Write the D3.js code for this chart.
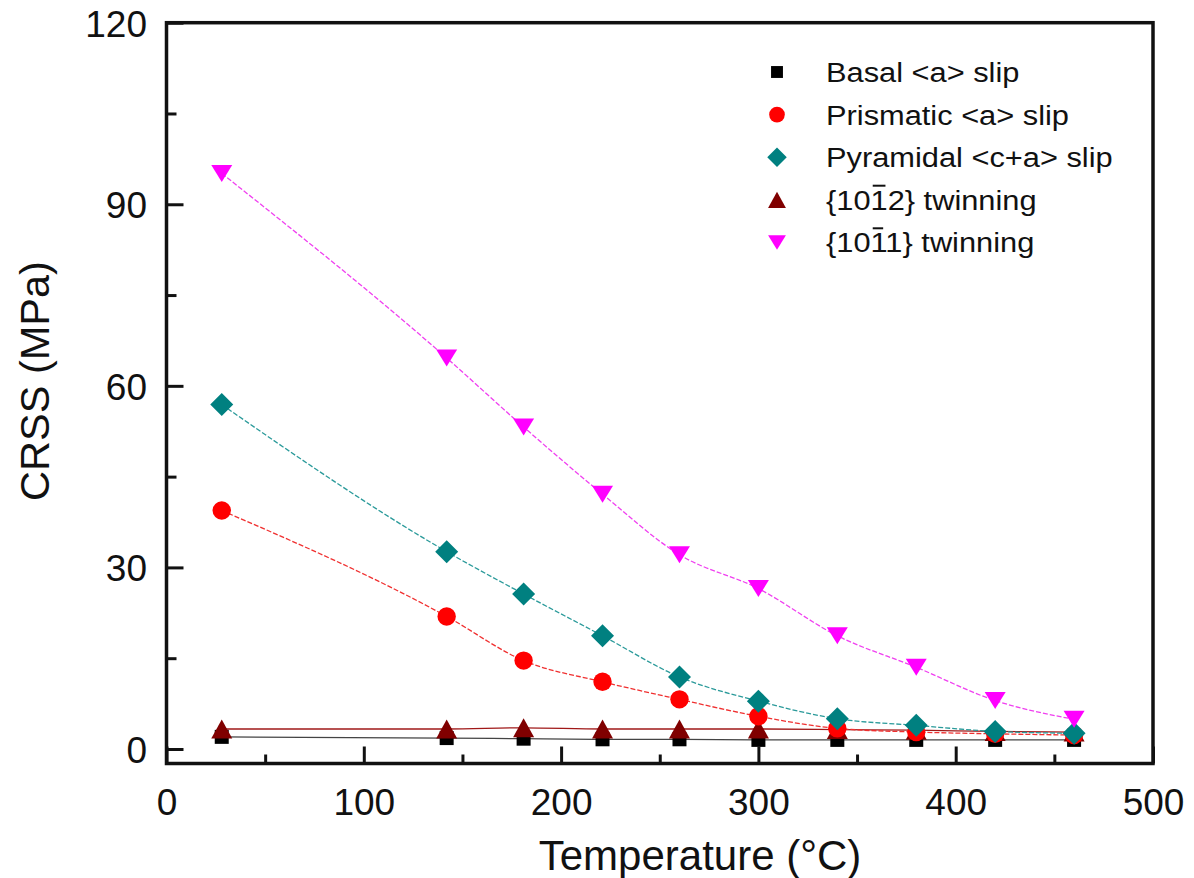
<!DOCTYPE html>
<html>
<head>
<meta charset="utf-8">
<script src="https://cdn.jsdelivr.net/npm/d3@7"></script>
<style>
  html, body { margin: 0; padding: 0; background: #fff; }
  svg text { font-family: "Liberation Sans", Arial, Helvetica, sans-serif; fill: #111; }
</style>
</head>
<body>
<svg id="chart" width="1194" height="878"></svg>
<script>
// Temperature (°C) at which each CRSS value was fitted
const temps = [28, 142, 181, 221, 260, 300, 340, 380, 420, 460];

// CRSS (MPa) per deformation mode
const basal     = [2.0, 1.8, 1.7, 1.6, 1.6, 1.5, 1.5, 1.5, 1.5, 1.5];
const prismatic = [39.4, 21.9, 14.6, 11.1, 8.2, 5.4, 3.4, 2.8, 2.5, 2.3];
const pyramidal = [56.9, 32.6, 25.6, 18.7, 11.9, 7.9, 5.0, 3.9, 2.9, 2.6];
const twin1012  = [3.3, 3.3, 3.5, 3.3, 3.3, 3.3, 3.2, 3.1, 2.9, 2.8];
const twin1011  = [95.1, 64.6, 53.2, 42.1, 32.1, 26.5, 18.7, 13.5, 8.0, 4.9];

// Axis ticks
const xMajor = [0, 100, 200, 300, 400, 500];
const xMinor = [50, 150, 250, 350, 450];
const yMajor = [0, 30, 60, 90, 120];
const yMinor = [15, 45, 75, 105];

const seriesNames = ["Basal <a> slip", "Prismatic <a> slip", "Pyramidal <c+a> slip", "{1012} twinning", "{1011} twinning"];

const series = [
  { name: seriesNames[0], values: basal,     color: "#000000", line: "#444444", dash: null,  shape: "square" },
  { name: seriesNames[3], values: twin1012,  color: "#800000", line: "#a01818", dash: null,  shape: "up" },
  { name: seriesNames[1], values: prismatic, color: "#ff0000", line: "#f03030", dash: "5,2", shape: "circle" },
  { name: seriesNames[2], values: pyramidal, color: "#008080", line: "#2a9a9a", dash: "5,2", shape: "diamond" },
  { name: seriesNames[4], values: twin1011,  color: "#ff00ff", line: "#f040f0", dash: "5,2", shape: "down" }
];
const legendOrder = [0, 2, 3, 1, 4];

const svg = d3.select("#chart");
const x = d3.scaleLinear().domain([0, 500]).range([166.5, 1153]);
const y = d3.scaleLinear().domain([-2.4, 120]).range([763.5, 22.7]);

function markerPath(shape) {
  switch (shape) {
    case "square":  return "M-7,-7H7V7H-7Z";
    case "circle":  return d3.symbol(d3.symbolCircle, Math.PI * 9.2 * 9.2)();
    case "diamond": return "M0,-11.5L11.5,0L0,11.5L-11.5,0Z";
    case "up":      return "M0,-9.5L10.5,9.5L-10.5,9.5Z";
    case "down":    return "M-10.5,-8.5L10.5,-8.5L0,8.5Z";
  }
}

// Connecting curves and markers
const line = d3.line().x((d, i) => x(temps[i])).y(d => y(d)).curve(d3.curveMonotoneX);
const plot = svg.append("g");
series.forEach(s => {
  plot.append("path")
    .attr("d", line(s.values))
    .attr("fill", "none")
    .attr("stroke", s.line)
    .attr("stroke-width", 1.3)
    .attr("stroke-dasharray", s.dash);
});
series.forEach(s => {
  plot.selectAll(null).data(s.values).enter().append("path")
    .attr("d", markerPath(s.shape))
    .attr("transform", (d, i) => `translate(${x(temps[i])},${y(d)})`)
    .attr("fill", s.color);
});

// Axes with inward ticks
const axisColor = "#111";
const yAxis = svg.append("g").attr("transform", `translate(${x(0)},0)`)
  .call(d3.axisLeft(y).tickValues(yMajor).tickSize(-17).tickPadding(19.5).tickFormat(d3.format("d")));
const yAxisMinor = svg.append("g").attr("transform", `translate(${x(0)},0)`)
  .call(d3.axisLeft(y).tickValues(yMinor).tickSize(-10).tickFormat(""));
const xAxis = svg.append("g").attr("transform", `translate(0,${y.range()[0]})`)
  .call(d3.axisBottom(x).tickValues(xMajor).tickSize(-17).tickPadding(25).tickFormat(d3.format("d")));
const xAxisMinor = svg.append("g").attr("transform", `translate(0,${y.range()[0]})`)
  .call(d3.axisBottom(x).tickValues(xMinor).tickSize(-9).tickFormat(""));

[yAxis, yAxisMinor, xAxis, xAxisMinor].forEach(g => {
  g.select(".domain").remove();
  g.selectAll(".tick line").attr("stroke", axisColor).attr("stroke-width", 3);
  g.selectAll(".tick text").attr("font-size", 37).attr("fill", "#111");
});
yAxis.selectAll(".tick text").attr("dy", "0.36em");
xAxis.selectAll(".tick text").attr("dy", "0.71em");

// Plot frame
svg.append("rect")
  .attr("x", x(0)).attr("y", y(120))
  .attr("width", x(500) - x(0)).attr("height", y.range()[0] - y(120))
  .attr("fill", "none").attr("stroke", axisColor).attr("stroke-width", 3.5);

// Axis titles
svg.append("text")
  .attr("x", 700).attr("y", 870)
  .attr("text-anchor", "middle").attr("font-size", 42)
  .text("Temperature (°C)");
svg.append("text")
  .attr("transform", "translate(49,381) rotate(-90)")
  .attr("text-anchor", "middle").attr("font-size", 41.5)
  .text("CRSS (MPa)");

// Legend (labels set slightly wide)
const legend = svg.append("g");
legendOrder.forEach((si, k) => {
  const s = series[si];
  const ly = 72 + k * 42.6;
  legend.append("path")
    .attr("d", markerPath(s.shape))
    .attr("transform", `translate(777,${ly}) scale(0.85)`)
    .attr("fill", s.color);
  const row = legend.append("g").attr("transform", `translate(826,${ly}) scale(1.1,1)`);
  const t = row.append("text")
    .attr("x", 0).attr("y", 0).attr("dy", "0.36em")
    .attr("font-size", 28)
    .text(s.name);
  // Miller-Bravais index: bar over the third index digit
  if (s.name.startsWith("{10")) {
    const box = t.node().getExtentOfChar(3);
    row.append("line")
      .attr("x1", box.x + 2).attr("x2", box.x + box.width - 2)
      .attr("y1", box.y + 1.5).attr("y2", box.y + 1.5)
      .attr("stroke", "#111").attr("stroke-width", 2);
  }
});
</script>
</body>
</html>
